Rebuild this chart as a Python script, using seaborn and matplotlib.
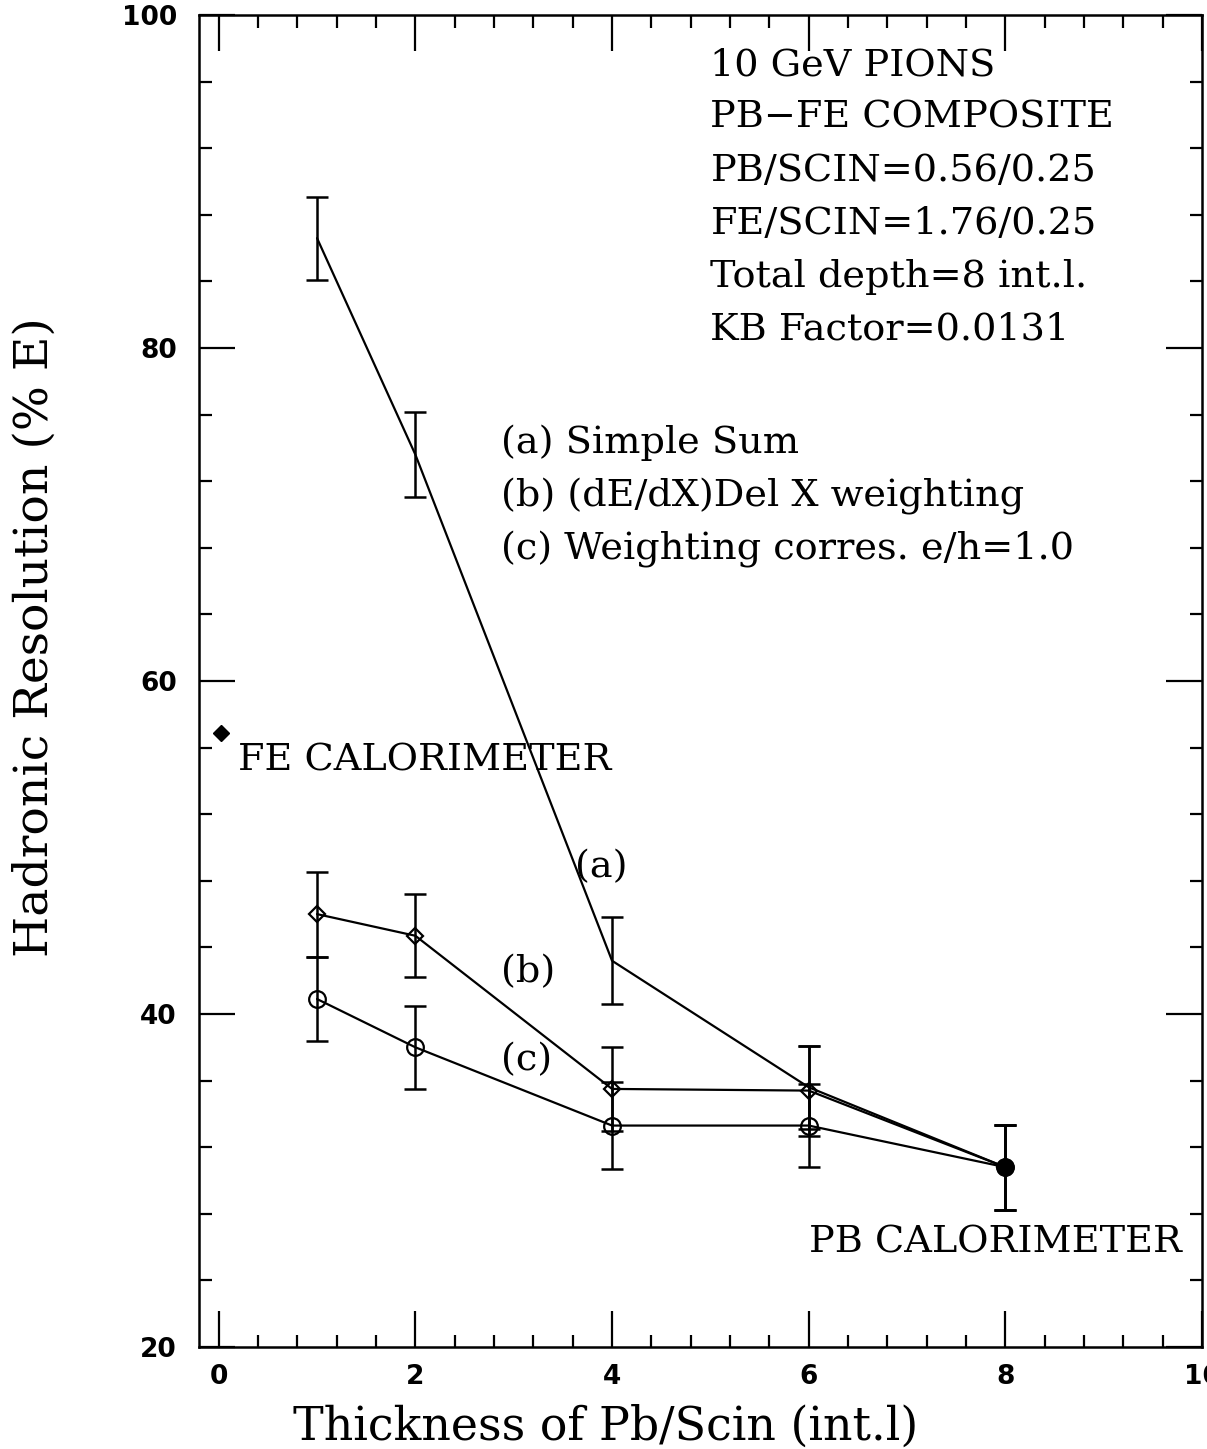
#!/usr/bin/env python3
"""
Hadronic resolution vs Pb/Scin thickness for a Pb-Fe composite calorimeter.
"""

import numpy as np
import pandas as pd
import matplotlib
matplotlib.use('Agg')
import matplotlib.pyplot as plt
from matplotlib.ticker import MultipleLocator
import seaborn as sns

# Data
thickness = [1, 2, 4, 6, 8]
res_simple_sum = [86.6, 73.6, 43.2, 35.6, 30.8]
err_simple_sum = [2.5, 2.55, 2.6, 2.5, 2.55]
res_dedx_weight = [46.0, 44.7, 35.5, 35.4, 30.8]
err_dedx_weight = [2.55, 2.5, 2.5, 2.7, 2.55]
res_eh_weight = [40.9, 38.0, 33.3, 33.3, 30.8]
err_eh_weight = [2.55, 2.5, 2.6, 2.5, 2.55]
fe_calo_x = [0.02]
fe_calo_res = [56.9]

info_lines = ["10 GeV PIONS", "PB\u2212FE COMPOSITE", "PB/SCIN=0.56/0.25",
              "FE/SCIN=1.76/0.25", "Total depth=8 int.l.", "KB Factor=0.0131"]
legend_lines = ["(a) Simple Sum", "(b) (dE/dX)Del X weighting",
                "(c) Weighting corres. e/h=1.0"]

df = pd.DataFrame({
    'x': thickness * 3,
    'res': res_simple_sum + res_dedx_weight + res_eh_weight,
    'err': err_simple_sum + err_dedx_weight + err_eh_weight,
    'series': ['a'] * 5 + ['b'] * 5 + ['c'] * 5,
})

sns.set_theme(style='ticks')
plt.rcParams['font.family'] = ['DejaVu Serif']
plt.rcParams['text.color'] = 'black'
plt.rcParams['axes.labelcolor'] = 'black'
plt.rcParams['xtick.color'] = 'black'
plt.rcParams['ytick.color'] = 'black'

fig = plt.figure(figsize=(12.07, 14.49), dpi=100)
ax = fig.add_axes([0.1649, 0.0704, 0.8310, 0.9192])

markers = {'a': None, 'b': 'D', 'c': 'o'}
sizes = {'a': 0, 'b': 8, 'c': 12}
for name, sub in df.groupby('series'):
    sns.lineplot(data=sub, x='x', y='res', ax=ax, color='black', lw=1.6,
                 marker=markers[name], markersize=sizes[name],
                 markerfacecolor='none', markeredgecolor='black',
                 markeredgewidth=1.6, legend=False)
    ax.errorbar(sub['x'], sub['res'], yerr=sub['err'], fmt='none',
                ecolor='black', elinewidth=1.8, capsize=8, capthick=1.8)

# common Pb calorimeter point and the Fe calorimeter point
ax.plot(thickness[-1:], res_eh_weight[-1:], 'o', color='black', markersize=12)
ax.plot(fe_calo_x, fe_calo_res, 'D', color='black', markersize=8)

ax.set_xlim(-0.2, 10)
ax.set_ylim(20, 100)
ax.xaxis.set_major_locator(MultipleLocator(2))
ax.xaxis.set_minor_locator(MultipleLocator(0.4))
ax.yaxis.set_major_locator(MultipleLocator(20))
ax.yaxis.set_minor_locator(MultipleLocator(4))
ax.tick_params(which='both', direction='in', top=True, right=True,
               color='black', width=1.6)
ax.tick_params(which='major', length=26)
ax.tick_params(which='minor', length=9)
ax.tick_params(axis='x', which='major', pad=12)
ax.tick_params(axis='y', which='major', pad=16)
for lab in ax.get_xticklabels() + ax.get_yticklabels():
    lab.set_family('DejaVu Sans')
    lab.set_fontweight('bold')
    lab.set_fontsize(19)
    lab.set_color('black')
for sp in ax.spines.values():
    sp.set_linewidth(1.8)
    sp.set_color('black')

ax.set_xlabel('Thickness of Pb/Scin (int.l)', fontsize=33)
ax.xaxis.set_label_coords(0.405, -0.043)
ax.set_ylabel('Hadronic Resolution (% E)', fontsize=34)
ax.yaxis.set_label_coords(-0.141, 0.533)

txt = dict(fontsize=27.5, color='black', va='center', ha='left')
for i, line in enumerate(info_lines):
    ax.text(5.0, 97.0 - 3.18 * i, line, **txt)
for i, line in enumerate(legend_lines):
    ax.text(2.87, 74.3 - 3.2 * i, line, **txt)

ax.text(0.2, 55.2, 'FE CALORIMETER', **txt)
ax.text(6.0, 26.25, 'PB CALORIMETER', **txt)
ax.text(3.62, 48.8, '(a)', **txt)
ax.text(2.87, 42.5, '(b)', **txt)
ax.text(2.87, 37.2, '(c)', **txt)

fig.savefig('out.png', dpi=100)
